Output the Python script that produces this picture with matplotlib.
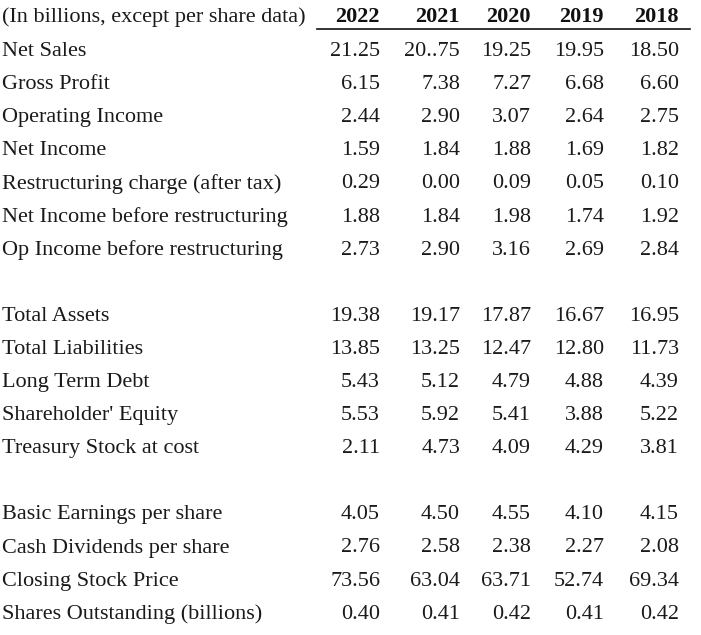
import glob
import matplotlib.pyplot as plt
from matplotlib import font_manager as fm


def serif_font(bold=False):
    name = "LiberationSerif-Bold.ttf" if bold else "LiberationSerif-Regular.ttf"
    hits = glob.glob(f"/usr/**/{name}", recursive=True)
    if hits:
        return fm.FontProperties(fname=hits[0])
    return fm.FontProperties(family="Liberation Serif",
                             weight="bold" if bold else "normal")


header_label = "(In billions, except per share data)"
years = ["2022", "2021", "2020", "2019", "2018"]

# three blocks of rows, blank line between them
labels = [
    "Net Sales", "Gross Profit", "Operating Income", "Net Income",
    "Restructuring charge (after tax)", "Net Income before restructuring",
    "Op Income before restructuring",
    None,
    "Total Assets", "Total Liabilities", "Long Term Debt",
    "Shareholder' Equity", "Treasury Stock at cost",
    None,
    "Basic Earnings per share", "Cash Dividends per share",
    "Closing Stock Price", "Shares Outstanding (billions)",
]

# values kept as printed (incl. the "20..75" typo in the source)
v2022 = ["21.25", "6.15", "2.44", "1.59", "0.29", "1.88", "2.73", None,
         "19.38", "13.85", "5.43", "5.53", "2.11", None,
         "4.05", "2.76", "73.56", "0.40"]
v2021 = ["20..75", "7.38", "2.90", "1.84", "0.00", "1.84", "2.90", None,
         "19.17", "13.25", "5.12", "5.92", "4.73", None,
         "4.50", "2.58", "63.04", "0.41"]
v2020 = ["19.25", "7.27", "3.07", "1.88", "0.09", "1.98", "3.16", None,
         "17.87", "12.47", "4.79", "5.41", "4.09", None,
         "4.55", "2.38", "63.71", "0.42"]
v2019 = ["19.95", "6.68", "2.64", "1.69", "0.05", "1.74", "2.69", None,
         "16.67", "12.80", "4.88", "3.88", "4.29", None,
         "4.10", "2.27", "52.74", "0.41"]
v2018 = ["18.50", "6.60", "2.75", "1.82", "0.10", "1.92", "2.84", None,
         "16.95", "11.73", "4.39", "5.22", "3.81", None,
         "4.15", "2.08", "69.34", "0.42"]
columns = [v2022, v2021, v2020, v2019, v2018]

W, H = 701, 635
fig = plt.figure(figsize=(W / 100, H / 100), dpi=100)
ax = fig.add_axes([0, 0, 1, 1])
ax.set_xlim(0, W)
ax.set_ylim(H, 0)
ax.axis("off")

fs = 16
reg = serif_font()
reg.set_size(fs)
bold = serif_font(bold=True)
bold.set_size(fs)

col_right = [380, 460, 531, 604, 679]
label_x = 2
top_y = 17.5
row0_y = 51.5
row_h = 33.1

ax.text(label_x, top_y, header_label, ha="left", va="center", fontproperties=reg, color="#1a1a1a")
for x, yr in zip(col_right, years):
    ax.text(x, top_y, yr, ha="right", va="center", fontproperties=bold, color="#111")
ax.plot([317, 690], [29, 29], color="#111", lw=1.2)

for i, lab in enumerate(labels):
    if lab is None:
        continue
    y = row0_y + i * row_h
    ax.text(label_x, y, lab, ha="left", va="center", fontproperties=reg, color="#1a1a1a")
    for x, col in zip(col_right, columns):
        ax.text(x, y, col[i], ha="right", va="center", fontproperties=reg, color="#1a1a1a")

fig.savefig("out.png", dpi=100, facecolor="white")
